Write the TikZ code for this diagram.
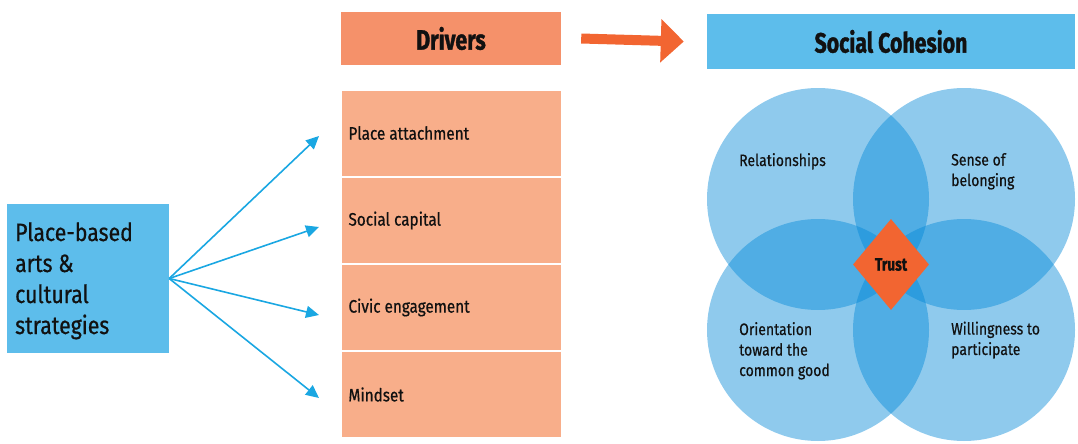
\documentclass[tikz,border=0pt]{standalone}
\usepackage{fontspec}
\setmainfont{Fira Sans}[FakeStretch=0.85, FakeBold=0.6]
\newfontfamily\headfont{Fira Sans}[FakeStretch=0.76, FakeBold=1.2]
\usetikzlibrary{arrows.meta,shapes.geometric}
\definecolor{drvhead}{HTML}{F5916A}
\definecolor{drvrow}{HTML}{F8AE8A}
\definecolor{cohblue}{HTML}{5DBDEB}
\definecolor{arrblue}{HTML}{1AA7E2}
\definecolor{trustor}{HTML}{F26531}
\definecolor{circblue}{RGB}{0,135,215}
\definecolor{ink}{HTML}{111111}
\tikzset{
  every node/.style={text=ink},
  header/.style={fill=#1, inner sep=0pt, font=\headfont\bfseries\fontsize{28}{30}\selectfont},
  rowbox/.style={fill=drvrow, minimum width=219pt, minimum height=85pt, inner sep=0pt},
  rowtext/.style={anchor=west, inner sep=0pt, font=\fontsize{18}{20}\selectfont},
  venn/.style={circle, fill=circblue, fill opacity=0.44, minimum size=222pt, inner sep=0pt},
  vlabel/.style={anchor=base west, align=left, inner sep=0pt, font=\fontsize{16.5}{20.5}\selectfont},
  fan/.style={draw=arrblue, line width=1.6pt, -{Triangle[length=13pt,width=12pt]}},
  bigarrow/.style={draw=trustor, line width=10pt, -{Triangle[length=23pt,width=42pt]}}
}
\begin{document}
\begin{tikzpicture}[x=1pt,y=-1pt]
\useasboundingbox (0,0) rectangle (1078,444);
% left source box
\node[fill=cohblue, minimum width=162pt, minimum height=149pt, inner sep=0pt] (src) at (88,278.5) {};
\node[anchor=base west, align=left, inner sep=0pt, font=\fontsize{25}{31}\selectfont] (srctext) at (15,334)
  {Place-based\\arts \&\\cultural\\strategies};
% drivers
\node[header=drvhead, minimum width=220pt, minimum height=53pt] (drv) at (451,38.5) {Drivers};
\node[rowbox] (r1) at (451,133) {};
\node[rowbox] (r2) at (451,220.5) {};
\node[rowbox] (r3) at (451,307.5) {};
\node[rowbox] (r4) at (451,394.5) {};
\node[rowtext] (t1) at ([xshift=7pt]r1.west) {Place attachment};
\node[rowtext] (t2) at ([xshift=7pt]r2.west) {Social capital};
\node[rowtext] (t3) at ([xshift=7pt]r3.west) {Civic engagement};
\node[rowtext] (t4) at ([xshift=7pt]r4.west) {Mindset};
% fan arrows
\coordinate (e1) at (319,136);
\coordinate (e2) at (319,227);
\coordinate (e3) at (319,315);
\coordinate (e4) at (319,398);
\foreach \i in {1,2,3,4} \draw[fan] (src.east) -- (e\i);
% social cohesion
\node[header=cohblue, minimum width=368pt, minimum height=55pt] (coh) at (891,41.5) {Social Cohesion};
\draw[bigarrow] ([xshift=20pt]drv.east) -- ([xshift=-23pt]coh.west);
% venn circles
\node[venn] (c1) at (818,199) {};
\node[venn] (c2) at (964,199) {};
\node[venn] (c3) at (818,330) {};
\node[venn] (c4) at (964,330) {};
\node[diamond, fill=trustor, minimum width=76pt, minimum height=91pt, inner sep=0pt,
  font=\headfont\bfseries\fontsize{18}{20}\selectfont] (trust) at (891,264.5) {Trust};
\node[vlabel] (l1) at (739,166) {Relationships};
\node[vlabel] (l2) at (951,186) {Sense of\\belonging};
\node[vlabel] (l3) at (739,376) {Orientation\\toward the\\common good};
\node[vlabel] (l4) at (951,355) {Willingness to\\participate};
\end{tikzpicture}
\end{document}
